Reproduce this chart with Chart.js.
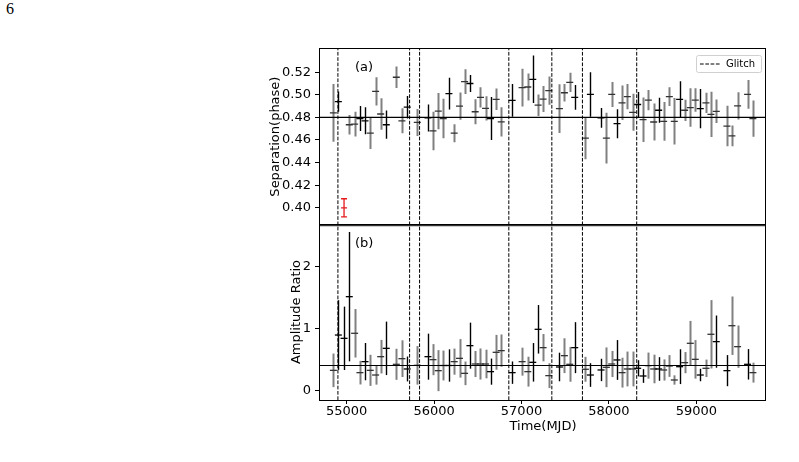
<!DOCTYPE html>
<html>
<head>
<meta charset="utf-8">
<script src="https://cdn.jsdelivr.net/npm/chart.js@4/dist/chart.umd.min.js"></script>
<style>
  body { margin: 0; background: #fff; }
  #page { position: relative; width: 799px; height: 462px; overflow: hidden; }
  #pageNo { position: absolute; left: 6px; top: 0px; font: 16px "Liberation Serif", serif; }
  canvas { position: absolute; }
</style>
</head>
<body>
<div id="page">
  <div id="pageNo">6</div>
  <canvas id="sepChart" width="531" height="237" style="left:268px;top:0px"></canvas>
  <canvas id="ampChart" width="510" height="252" style="left:289px;top:210px"></canvas>
</div>
<script>
// MJD of glitches
const glitches = [54900, 55720, 55834, 56855, 57347, 57697, 58318];

// panel (a): pulse-peak separation
const sepMjd = [54848, 54905, 55030, 55091, 55152, 55210, 55270, 55331, 55389, 55453,
  55568, 55632, 55693, 55808, 55930, 55987, 56048, 56105, 56170, 56230,
  56291, 56349, 56410, 56470, 56531, 56589, 56646, 56710, 56768, 56893,
  57007, 57072, 57129, 57190, 57247, 57312, 57434, 57491, 57552, 57609,
  57731, 57788, 57910, 57971, 58032, 58093, 58150, 58211, 58272, 58329,
  58390, 58451, 58512, 58569, 58626, 58691, 58748, 58809, 58866, 58931,
  58988, 59045, 59110, 59167, 59228, 59350, 59407, 59472, 59586, 59647];
const sepVal = [0.484, 0.494, 0.4735, 0.474, 0.479, 0.477, 0.466, 0.503, 0.483, 0.4735,
  0.5155, 0.477, 0.489, 0.4755, 0.4795, 0.468, 0.4855, 0.479, 0.501, 0.466,
  0.490, 0.5117, 0.510, 0.485, 0.4977, 0.488, 0.479, 0.496, 0.476, 0.495,
  0.5063, 0.5069, 0.5137, 0.4908, 0.4962, 0.5036, 0.4878, 0.5018, 0.511, 0.4977,
  0.4616, 0.5003, 0.4795, 0.4616, 0.5003, 0.4744, 0.4929, 0.4983, 0.4845, 0.4914,
  0.478, 0.4953, 0.4759, 0.4863, 0.4765, 0.4983, 0.4765, 0.4959, 0.4863, 0.4887,
  0.4953, 0.4878, 0.4929, 0.4827, 0.4854, 0.4723, 0.4637, 0.4902, 0.5003, 0.4789];
const sepErr = [0.0255, 0.009, 0.0087, 0.011, 0.011, 0.012, 0.014, 0.0125, 0.014, 0.0125,
  0.0095, 0.011, 0.010, 0.012, 0.012, 0.017, 0.016, 0.0175, 0.014, 0.008,
  0.012, 0.011, 0.0075, 0.011, 0.009, 0.0108, 0.019, 0.0095, 0.013, 0.0145,
  0.0167, 0.012, 0.021, 0.0095, 0.0115, 0.0125, 0.0216, 0.0078, 0.0085, 0.011,
  0.0186, 0.0197, 0.0087, 0.0224, 0.011, 0.0128, 0.0153, 0.0112, 0.0164, 0.011,
  0.0197, 0.009, 0.0164, 0.011, 0.0172, 0.0083, 0.0206, 0.016, 0.0094, 0.017,
  0.0104, 0.0174, 0.009, 0.020, 0.0104, 0.0179, 0.0092, 0.012, 0.0127, 0.016];
// 1 = grey point, 0 = black point
const sepGrey = [1, 0, 1, 1, 0, 0, 1, 1, 1, 0,
  1, 1, 0, 1, 0, 1, 1, 1, 0, 1,
  1, 1, 0, 1, 1, 1, 0, 1, 1, 0,
  1, 1, 0, 1, 1, 1, 1, 1, 1, 0,
  1, 0, 0, 1, 1, 0, 1, 1, 1, 0,
  1, 1, 1, 0, 1, 1, 1, 0, 1, 1,
  1, 0, 1, 1, 1, 1, 1, 1, 1, 1];
const sepMean = 0.48;
const outlierMjd = [54970];
const outlierVal = [0.400];
const outlierErr = [0.008];
const sepTicks = [0.40, 0.42, 0.44, 0.46, 0.48, 0.50, 0.52];

// panel (b): amplitude ratio
const ampMjd = [54848, 54905, 54970, 55030, 55091, 55152, 55210, 55270, 55331, 55389,
  55453, 55568, 55632, 55693, 55808, 55930, 55987, 56048, 56105, 56170,
  56230, 56291, 56349, 56410, 56470, 56531, 56589, 56646, 56710, 56768,
  56893, 57007, 57072, 57129, 57190, 57247, 57312, 57434, 57491, 57552,
  57609, 57731, 57788, 57910, 57971, 58032, 58093, 58150, 58211, 58272,
  58329, 58390, 58451, 58512, 58569, 58626, 58691, 58748, 58809, 58866,
  58931, 58988, 59045, 59110, 59167, 59228, 59350, 59407, 59472, 59586, 59647];
const ampVal = [0.332, 0.90, 0.847, 1.517, 0.928, 0.295, 0.472, 0.332, 0.257, 0.552,
  0.686, 0.429, 0.52, 0.354, 0.413, 0.552, 0.504, 0.327, 0.41, 0.41,
  0.472, 0.525, 0.284, 0.729, 0.434, 0.434, 0.434, 0.311, 0.622, 0.649,
  0.295, 0.472, 0.311, 0.461, 0.992, 0.697, 0.247, 0.386, 0.568, 0.429,
  0.697, 0.349, 0.257, 0.338, 0.381, 0.434, 0.499, 0.295, 0.354, 0.354,
  0.365, 0.241, 0.408, 0.354, 0.354, 0.338, 0.402, 0.177, 0.391, 0.456,
  0.767, 0.509, 0.257, 0.365, 0.912, 0.794, 0.327, 1.05, 0.713, 0.429, 0.295];
const ampErr = [0.27, 0.56, 0.51, 1.04, 0.39, 0.19, 0.30, 0.25, 0.155, 0.27,
  0.43, 0.25, 0.295, 0.20, 0.31, 0.37, 0.25, 0.33, 0.24, 0.26,
  0.21, 0.31, 0.19, 0.37, 0.21, 0.25, 0.23, 0.21, 0.28, 0.26,
  0.18, 0.225, 0.24, 0.31, 0.39, 0.22, 0.20, 0.23, 0.28, 0.28,
  0.41, 0.20, 0.19, 0.18, 0.32, 0.21, 0.32, 0.24, 0.28, 0.28,
  0.13, 0.11, 0.21, 0.23, 0.19, 0.17, 0.175, 0.075, 0.28, 0.17,
  0.36, 0.31, 0.10, 0.14, 0.55, 0.42, 0.25, 0.47, 0.34, 0.245, 0.16];
const ampGrey = [1, 0, 0, 0, 1, 1, 0, 1, 1, 1,
  0, 1, 1, 0, 1, 0, 1, 1, 1, 0,
  1, 1, 1, 0, 1, 1, 1, 0, 1, 1,
  0, 1, 1, 0, 0, 1, 1, 0, 1, 1,
  0, 1, 0, 0, 1, 1, 0, 1, 1, 1,
  0, 0, 1, 1, 0, 1, 1, 1, 0, 1,
  1, 1, 0, 1, 1, 0, 0, 1, 1, 0, 1];
const ampMean = 0.41;
const ampTicks = [0, 1, 2];
const mjdTicks = [55000, 56000, 57000, 58000, 59000];

const X_MIN = 54695, X_MAX = 59797;
const GREY = "#808080";
const FONT = "'DejaVu Sans', sans-serif";
Chart.defaults.font.family = FONT;
Chart.defaults.color = "#000";

function errorBarPlugin(xs, ys, errs, grey) {
  return {
    id: "errorBars",
    beforeDatasetsDraw(chart) {
      const { ctx, chartArea: a, scales: { x, y } } = chart;
      ctx.save();
      ctx.beginPath();
      ctx.rect(a.left, a.top, a.right - a.left, a.bottom - a.top);
      ctx.clip();
      xs.forEach((m, i) => {
        const px = Math.round(x.getPixelForValue(m)) + 0.5;
        ctx.strokeStyle = grey[i] ? GREY : "#000";
        ctx.lineWidth = grey[i] ? 2 : 1.4;
        ctx.beginPath();
        ctx.moveTo(px, y.getPixelForValue(ys[i] - errs[i]));
        ctx.lineTo(px, y.getPixelForValue(ys[i] + errs[i]));
        ctx.stroke();
      });
      ctx.restore();
    },
  };
}

function framePlugin(label, legend) {
  return {
    id: "frame",
    afterDraw(chart) {
      const { ctx, chartArea: a } = chart;
      ctx.save();
      ctx.strokeStyle = "#000";
      ctx.lineWidth = 1;
      ctx.strokeRect(a.left - 0.5, a.top + 0.5, a.right - a.left, a.bottom - a.top);
      ctx.fillStyle = "#000";
      ctx.font = "13px " + FONT;
      ctx.textBaseline = "middle";
      ctx.fillText(label, a.left + 35, a.top + 20);
      if (legend) {
        const w = 65, h = 17, bx = a.right - w - 5, by = a.top + 7;
        ctx.fillStyle = "rgba(255,255,255,0.8)";
        ctx.strokeStyle = "#d0d0d0";
        ctx.beginPath();
        ctx.roundRect(bx + 0.5, by + 0.5, w, h, 2);
        ctx.fill();
        ctx.stroke();
        ctx.strokeStyle = "#000";
        ctx.setLineDash([3.7, 1.6]);
        ctx.beginPath();
        ctx.moveTo(bx + 4, by + h / 2 + 0.5);
        ctx.lineTo(bx + 24, by + h / 2 + 0.5);
        ctx.stroke();
        ctx.setLineDash([]);
        ctx.fillStyle = "#000";
        ctx.font = "10px " + FONT;
        ctx.fillText("Glitch", bx + 30, by + h / 2 + 1);
      }
      ctx.restore();
    },
  };
}

function glitchSets(yMin, yMax) {
  return glitches.map((g) => ({
    type: "line",
    data: [{ x: g, y: yMin }, { x: g, y: yMax }],
    borderColor: "#000",
    borderWidth: 1,
    borderDash: [3.7, 1.6],
    pointRadius: 0,
  }));
}

function meanLine(v) {
  return {
    type: "line",
    data: [{ x: X_MIN, y: v }, { x: X_MAX, y: v }],
    borderColor: "#000",
    borderWidth: 1.2,
    pointRadius: 0,
  };
}

function pointSet(xs, ys, grey) {
  return {
    type: "scatter",
    data: xs.map((m, i) => ({ x: m, y: ys[i] })),
    pointStyle: "line",
    pointRadius: 3.5,
    pointBorderWidth: 1.3,
    pointBorderColor: grey.map((g) => (g ? "#333" : "#000")),
  };
}

function yAxis(title, min, max, ticks, fmt, width) {
  return {
    min, max,
    afterBuildTicks: (s) => { s.ticks = ticks.map((v) => ({ value: v })); },
    afterFit: (s) => { s.width = width; },
    ticks: { font: { size: 13 }, color: "#000", padding: 4, callback: fmt },
    grid: { drawOnChartArea: false, drawTicks: true, tickLength: 5, color: "#000" },
    border: { display: false },
    title: { display: true, text: title, font: { size: 13 }, color: "#000", padding: 0 },
  };
}

const SEP_MIN = 0.3846, SEP_MAX = 0.5414;
const sepOutlier = {
  id: "outlier",
  afterDatasetsDraw(chart) {
    const { ctx, scales: { x, y } } = chart;
    ctx.save();
    ctx.strokeStyle = "#e41a1c";
    ctx.lineWidth = 1.3;
    outlierMjd.forEach((m, i) => {
      const px = x.getPixelForValue(m);
      const y0 = y.getPixelForValue(outlierVal[i] - outlierErr[i]);
      const y1 = y.getPixelForValue(outlierVal[i] + outlierErr[i]);
      const yc = y.getPixelForValue(outlierVal[i]);
      ctx.beginPath();
      ctx.moveTo(px, y0); ctx.lineTo(px, y1);
      ctx.moveTo(px - 3, y0); ctx.lineTo(px + 3, y0);
      ctx.moveTo(px - 3, y1); ctx.lineTo(px + 3, y1);
      ctx.moveTo(px - 3, yc); ctx.lineTo(px + 3, yc);
      ctx.stroke();
    });
    ctx.restore();
  },
};

new Chart(document.getElementById("sepChart"), {
  data: {
    datasets: [
      ...glitchSets(SEP_MIN, SEP_MAX),
      meanLine(sepMean),
      pointSet(sepMjd, sepVal, sepGrey),
    ],
  },
  options: {
    responsive: false,
    animation: false,
    layout: { padding: { left: 0, top: 48, right: 33, bottom: 3 } },
    plugins: { legend: { display: false }, tooltip: { enabled: false } },
    scales: {
      x: { type: "linear", min: X_MIN, max: X_MAX, display: false },
      y: yAxis("Separation(phase)", SEP_MIN, SEP_MAX, sepTicks, (v) => v.toFixed(2), 52),
    },
  },
  plugins: [errorBarPlugin(sepMjd, sepVal, sepErr, sepGrey), sepOutlier, framePlugin("(a)", true)],
});

const AMP_MIN = -0.145, AMP_MAX = 2.686;
new Chart(document.getElementById("ampChart"), {
  data: {
    datasets: [
      ...glitchSets(AMP_MIN, AMP_MAX),
      meanLine(ampMean),
      pointSet(ampMjd, ampVal, ampGrey),
    ],
  },
  options: {
    responsive: false,
    animation: false,
    layout: { padding: { left: 0, top: 14, right: 33, bottom: 28 } },
    plugins: { legend: { display: false }, tooltip: { enabled: false } },
    scales: {
      x: {
        type: "linear",
        min: X_MIN, max: X_MAX,
        afterBuildTicks: (s) => { s.ticks = mjdTicks.map((v) => ({ value: v })); },
        afterFit: (s) => { s.height = 34; },
        ticks: { font: { size: 13 }, color: "#000", padding: 0, callback: (v) => String(v) },
        grid: { drawOnChartArea: false, drawTicks: true, tickLength: 4, color: "#000" },
        border: { display: false },
        title: { display: true, text: "Time(MJD)", font: { size: 13 }, color: "#000", padding: 0 },
      },
      y: yAxis("Amplitude Ratio", AMP_MIN, AMP_MAX, ampTicks, (v) => String(v), 31),
    },
  },
  plugins: [errorBarPlugin(ampMjd, ampVal, ampErr, ampGrey), framePlugin("(b)", false)],
});
</script>
</body>
</html>
